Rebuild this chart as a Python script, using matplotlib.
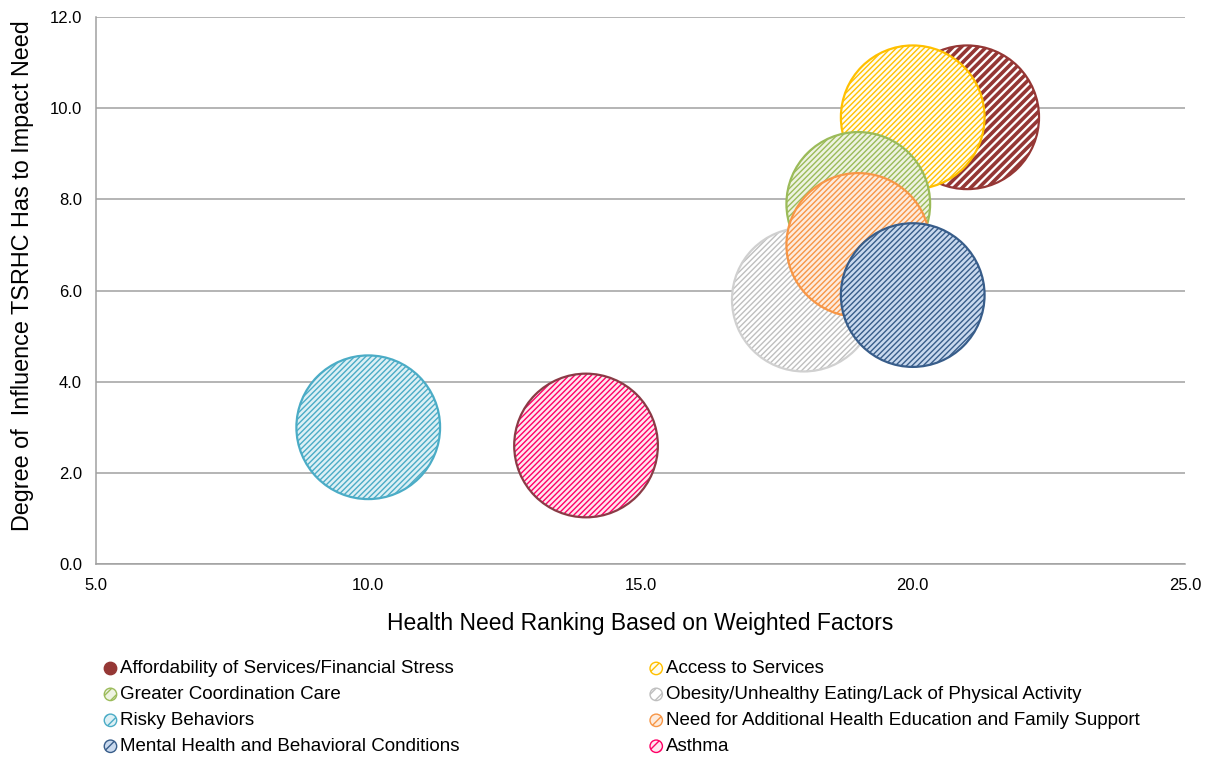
import numpy as np
import matplotlib
matplotlib.use("Agg")
import matplotlib.pyplot as plt

plt.rcParams['font.family'] = ['Liberation Sans', 'DejaVu Sans']

# series in the order Excel drew them (later ones sit on top)
names = [
    "Affordability of Services/Financial Stress",
    "Access to Services",
    "Greater Coordination Care",
    "Obesity/Unhealthy Eating/Lack of Physical Activity",
    "Risky Behaviors",
    "Need for Additional Health Education and Family Support",
    "Mental Health and Behavioral Conditions",
    "Asthma",
]
ranking = [21.0, 20.0, 19.0, 18.0, 10.0, 19.0, 20.0, 14.0]
influence = [9.8, 9.8, 7.9, 5.8, 3.0, 7.0, 5.9, 2.6]
bubble = [1.0, 1.0, 1.0, 1.0, 1.0, 1.0, 1.0, 1.0]

line_col = ["#953735", "#FFC000", "#9BBB59", "#BFBFBF", "#4BACC6", "#F79646", "#385D8A", "#FF0066"]
edge_col = ["#953735", "#FFC000", "#9BBB59", "#D0D0D0", "#4BACC6", "#F79646", "#385D8A", "#8B3A46"]
face_col = ["#FFFFFF", "#FFFDF0", "#EEF3E2", "#FFFFFF", "#DDF0F5", "#FDEBDD", "#C9D9EE", "#FFE6EF"]
hatches = ["////", "//////", "//////", "//////", "//////", "//////", "//////", "//////"]

fig = plt.figure(figsize=(12.12, 7.59), dpi=100)
ax = fig.add_axes([0.0792, 0.2569, 0.8985, 0.7207])

max_s = 10700.0
for i in range(len(names)):
    lw_h = 2.6 if i == 0 else 1.0
    with plt.rc_context({'hatch.linewidth': lw_h}):
        ax.scatter([ranking[i]], [influence[i]], s=max_s * bubble[i],
                   facecolor=face_col[i], edgecolor=line_col[i],
                   hatch=hatches[i], linewidth=0, zorder=3 + i)
    # outline drawn separately so it can differ from the hatch colour
    ax.scatter([ranking[i]], [influence[i]], s=max_s * bubble[i],
               facecolor='none', edgecolor=edge_col[i], linewidth=1.6,
               zorder=3 + i)

ax.set_xlim(5, 25)
ax.set_ylim(0, 12)
ax.set_xticks(np.arange(5, 25.1, 5))
ax.set_yticks(np.arange(0, 12.1, 2))
ax.xaxis.set_major_formatter(matplotlib.ticker.FormatStrFormatter('%.1f'))
ax.yaxis.set_major_formatter(matplotlib.ticker.FormatStrFormatter('%.1f'))
ax.yaxis.grid(True, color="#A0A0A0", linewidth=1.1, zorder=0)
ax.set_axisbelow(True)
for s in ['top', 'right']:
    ax.spines[s].set_visible(False)
for s in ['left', 'bottom']:
    ax.spines[s].set_color("#A0A0A0")
    ax.spines[s].set_linewidth(1.1)
ax.tick_params(axis='y', length=0, labelsize=12, pad=10)
ax.tick_params(axis='x', length=0, labelsize=12, pad=10)

ax.set_xlabel("Health Need Ranking Based on Weighted Factors", fontsize=16.5, labelpad=14)
ax.set_ylabel("Degree of  Influence TSRHC Has to Impact Need", fontsize=16.8)
ax.yaxis.set_label_coords(-0.057, 0.528)

# legend proxies, reordered so it reads row by row like the original
handles = []
for i in range(len(names)):
    h = ax.scatter([], [], s=80, facecolor=face_col[i] if i else line_col[i],
                   edgecolor=line_col[i], hatch='///' if i else None,
                   linewidth=1.0, label=names[i])
    handles.append(h)
order = [0, 2, 4, 6, 1, 3, 5, 7]
fig.legend([handles[k] for k in order], [names[k] for k in order],
           loc='upper left', bbox_to_anchor=(0.078, 0.14), ncol=2,
           frameon=False, fontsize=13.5, handletextpad=0.05, handlelength=0.9,
           columnspacing=10.05, labelspacing=0.47, borderaxespad=0)

fig.savefig("out.png", dpi=100)
